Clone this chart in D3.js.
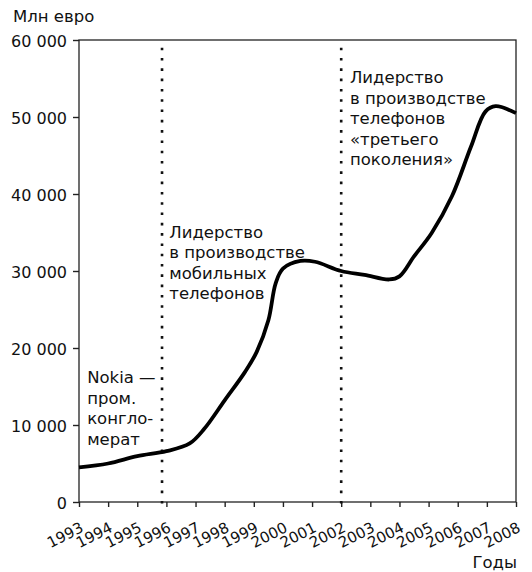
<!DOCTYPE html>
<html>
<head>
<meta charset="utf-8">
<script src="https://cdn.jsdelivr.net/npm/d3@7"></script>
<style>
  body { margin: 0; background: #fff; }
  text { font-family: "DejaVu Sans", sans-serif; fill: #111; }
</style>
</head>
<body>
<div id="container"></div>
<script>
/* DATA */
const years = [1993, 1994, 1995, 1996, 1996.8, 1997.3, 1998, 1998.7, 1999.1, 1999.5, 1999.75, 2000,
               2000.6, 2001.1, 2002, 2002.8, 2003.65, 2004, 2004.5, 2005.1, 2005.8, 2006.45, 2006.95, 2007.3, 2008];
const revenue = [4500, 5000, 5950, 6600, 7600, 9500, 13200, 16900, 19500, 23600, 28400, 30300,
                 31300, 31200, 30000, 29500, 28900, 29300, 31900, 34900, 39700, 46100, 50700, 51400, 50500];
const yearTicks = d3.range(1993, 2009);
const valueTicks = [0, 10000, 20000, 30000, 40000, 50000, 60000];
const markerYears = [1995.85, 2002];
const notes = [
  { year: 1996.1, value: 34300, lines: ["Лидерство", "в производстве", "мобильных", "телефонов"] },
  { year: 2002.3, value: 54400, lines: ["Лидерство", "в производстве", "телефонов", "«третьего", "поколения»"] },
  { year: 1993.28, value: 15400, lines: ["Nokia —", "пром.", "конгло-", "мерат"] }
];

/* SIZES */
const margin = { top: 40, right: 16, bottom: 70, left: 79 },
  width = 532 - margin.left - margin.right,
  height = 572 - margin.top - margin.bottom;

const data = years.map((d, i) => ({ year: d, value: revenue[i] }));

// SCALES
const x = d3.scaleLinear().domain([1993, 2008]).range([0, width]);
const y = d3.scaleLinear().domain([0, 60000]).range([height, 0]);

const fmt = d3.formatLocale({ decimal: ",", thousands: " ", grouping: [3], currency: ["", ""] }).format(",");

const svg = d3.select("#container").append("svg")
  .attr("width", 532)
  .attr("height", 572)
  .append("g")
  .attr("transform", "translate(" + margin.left + "," + margin.top + ")");

/* FRAME */
svg.append("rect")
  .attr("width", width)
  .attr("height", height)
  .attr("fill", "none")
  .attr("stroke", "#222")
  .attr("stroke-width", 1.3);

/* Y AXIS */
const yAxis = svg.append("g")
  .call(d3.axisLeft(y).tickValues(valueTicks).tickFormat(fmt).tickSize(6).tickPadding(6));
yAxis.select(".domain").remove();
yAxis.selectAll("line").attr("stroke", "#222").attr("stroke-width", 1.4);
yAxis.selectAll("text")
  .style("font-family", "'DejaVu Sans', sans-serif")
  .style("font-size", "16px")
  .attr("fill", "#111")
  .attr("dy", "0.4em");

/* X AXIS */
const xAxis = svg.append("g")
  .attr("transform", "translate(0," + height + ")")
  .call(d3.axisBottom(x).tickValues(yearTicks).tickFormat(d3.format("d")).tickSize(5));
xAxis.select(".domain").remove();
xAxis.selectAll("line").attr("stroke", "#222").attr("stroke-width", 1.4);
xAxis.selectAll("text")
  .style("font-family", "'DejaVu Sans', sans-serif")
  .style("font-size", "15px")
  .attr("fill", "#111")
  .attr("text-anchor", "end")
  .attr("y", 0)
  .attr("dy", 0)
  .attr("transform", "translate(5,29) rotate(-27)");

/* DOTTED MARKERS */
svg.selectAll(".marker")
  .data(markerYears)
  .join("line")
  .attr("class", "marker")
  .attr("x1", d => x(d))
  .attr("x2", d => x(d))
  .attr("y1", y(59000))
  .attr("y2", height + 5)
  .attr("stroke", "#111")
  .attr("stroke-width", 2.6)
  .attr("stroke-dasharray", "2.6,7.7");

/* LINE */
const line = d3.line()
  .x(d => x(d.year))
  .y(d => y(d.value))
  .curve(d3.curveCatmullRom.alpha(0.5));

svg.append("path")
  .datum(data)
  .attr("fill", "none")
  .attr("stroke", "#000")
  .attr("stroke-width", 3.8)
  .attr("stroke-linejoin", "round")
  .attr("d", line);

/* NOTES */
notes.forEach(n => {
  const t = svg.append("text")
    .attr("x", x(n.year))
    .attr("y", y(n.value))
    .style("font-size", "16.5px");
  n.lines.forEach((l, i) => {
    t.append("tspan")
      .attr("x", x(n.year))
      .attr("dy", i === 0 ? 0 : 20.5)
      .text(l);
  });
});

/* AXIS TITLES */
svg.append("text")
  .attr("x", -66)
  .attr("y", -18)
  .style("font-size", "16.5px")
  .text("Млн евро");

svg.append("text")
  .attr("x", width + 1)
  .attr("y", height + 66)
  .attr("text-anchor", "end")
  .style("font-size", "16.5px")
  .text("Годы");
</script>
</body>
</html>
